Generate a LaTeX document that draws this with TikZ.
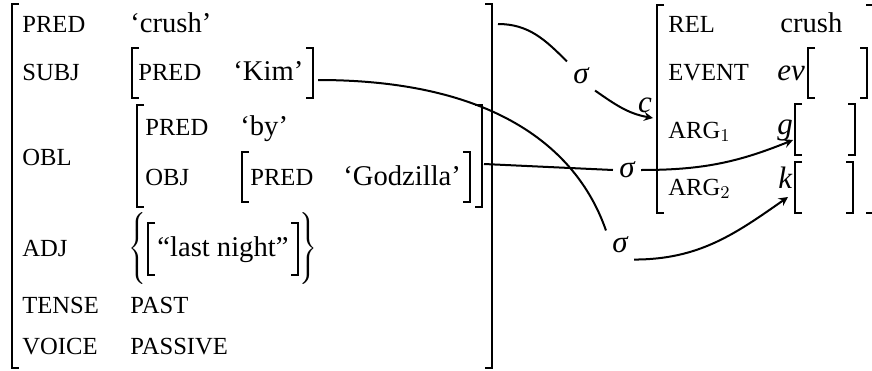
\documentclass[tikz,border=0pt]{standalone}
\usepackage{fontspec}
\setmainfont{Liberation Serif}

\begin{document}
\begin{tikzpicture}[>=stealth, x=0.5pt, y=0.5pt,
  brak/.style={line width=0.9pt},
  inbrak/.style={line width=0.7pt},
  attr/.style={anchor=base west, inner sep=0pt, font=\fontsize{12.3}{14}\selectfont},
  val/.style={anchor=base west, inner sep=0pt, font=\fontsize{14.3}{17}\selectfont},
  var/.style={anchor=base west, inner sep=0pt, font=\fontsize{15.5}{18}\selectfont\itshape},
  sig/.style={inner sep=3pt, font=\fontsize{15.5}{18}\selectfont\itshape},
  link/.style={line width=1pt}]
  \useasboundingbox (0,0) rectangle (872,-370);

  % ---- f-structure ----
  % Outer brackets
  \draw[brak] (19,-4) -| (12,-368) -- (19,-368);
  \draw[brak] (485,-4) -| (492,-368) -- (485,-368);
  % PRED
  \node[attr] (pred) at (22,-32) {PRED};
  \node[val] (crush) at (130,-32) {‘crush’};
  % SUBJ
  \node[attr] (subj) at (22,-80) {SUBJ};
  \draw[inbrak] (139,-48) -| (132,-98) -- (139,-98);
  \node[attr] (kpred) at (138,-80) {PRED};
  \node[val] (kim) at (233,-80) {‘Kim’};
  \draw[inbrak] (306,-48) -| (313,-98) -- (306,-98);
  % OBL
  \node[attr] (obl) at (22,-165) {OBL};
  \draw[inbrak] (144,-105) -| (137,-207) -- (144,-207);
  \draw[inbrak] (475,-105) -| (482,-207) -- (475,-207);
  \node[attr] (bpred) at (145,-135) {PRED};
  \node[val] (by) at (240,-135) {‘by’};
  \node[attr] (obj) at (145,-185) {OBJ};
  \draw[inbrak] (249,-152) -| (242,-202) -- (249,-202);
  \node[attr] (gpred) at (250,-185) {PRED};
  \node[val] (godz) at (343,-185) {‘Godzilla’};
  \draw[inbrak] (463,-152) -| (470,-202) -- (463,-202);
  % ADJ
  \node[attr] (adj) at (22,-256) {ADJ};
  \node[anchor=west, inner sep=0pt, font=\fontsize{14.3}{17}\selectfont] (lbrace) at (128,-248)
    {$\left\{\vcenter{\hbox{\rule{0pt}{36pt}}}\right.$};
  \draw[inbrak] (155,-223) -| (148,-275) -- (155,-275);
  \node[val] (night) at (157,-256) {“last night”};
  \draw[inbrak] (291,-223) -| (298,-275) -- (291,-275);
  \node[anchor=east, inner sep=0pt, font=\fontsize{14.3}{17}\selectfont] (rbrace) at (318,-248)
    {$\left.\vcenter{\hbox{\rule{0pt}{36pt}}}\right\}$};
  % TENSE and VOICE
  \node[attr] (tense) at (22,-313) {TENSE};
  \node[attr] (past) at (130,-313) {PAST};
  \node[attr] (voice) at (22,-354) {VOICE};
  \node[attr] (passive) at (130,-354) {PASSIVE};

  % ---- s-structure ----
  \draw[brak] (664,-5) -| (657,-213) -- (664,-213);
  \draw[brak] (866,-5) -| (873,-213) -- (866,-213);
  \node[sig, inner sep=0pt] (c) at (645,-105) {c};
  % REL
  \node[attr] (rel) at (668,-32) {REL};
  \node[val] (rcrush) at (780,-32) {crush};
  % EVENT
  \node[attr] (event) at (668,-80) {EVENT};
  \node[var] (ev) at (777,-80) {ev};
  \draw[inbrak] (815,-48) -| (808,-98) -- (815,-98);
  \draw[inbrak] (860,-48) -| (867,-98) -- (860,-98);
  % ARG1
  \node[attr] (arg1) at (668,-138) {ARG$_1$};
  \node[var] (g) at (777,-134) {g};
  \draw[inbrak] (802,-104) -| (795,-155) -- (802,-155);
  \draw[inbrak] (848,-104) -| (855,-155) -- (848,-155);
  % ARG2
  \node[attr] (arg2) at (668,-195) {ARG$_2$};
  \node[var] (k) at (778,-188) {k};
  \draw[inbrak] (802,-162) -| (795,-213) -- (802,-213);
  \draw[inbrak] (846,-162) -| (853,-213) -- (846,-213);

  % ---- sigma projections ----
  \node[sig] (sig1) at (581,-76) {σ};
  \node[sig] (sig2) at (627,-170) {σ};
  \node[sig] (sig3) at (620,-245) {σ};
  \coordinate (fmain) at (498,-24);
  \coordinate (fsubj) at (318,-80);
  \coordinate (fobl) at (484,-164);
  \coordinate (sroot) at (653,-118);
  \coordinate (sarg1) at (793,-140);
  \coordinate (sarg2) at (788,-197);
  \draw[link] (fmain) to[out=0, in=135] (sig1.north west);
  \draw[link, ->] (sig1.south east) to[out=-35, in=170] (sroot);
  \draw[link] (fsubj) .. controls +(182,0) and +(-27,78) .. (sig3.north west);
  \draw[link] (fobl) -- (sig2.west);
  \draw[link, ->] (sig2.east) to[out=0, in=202] (sarg1);
  \draw[link, ->] (sig3.south east) to[out=0, in=215] (sarg2);
\end{tikzpicture}
\end{document}
